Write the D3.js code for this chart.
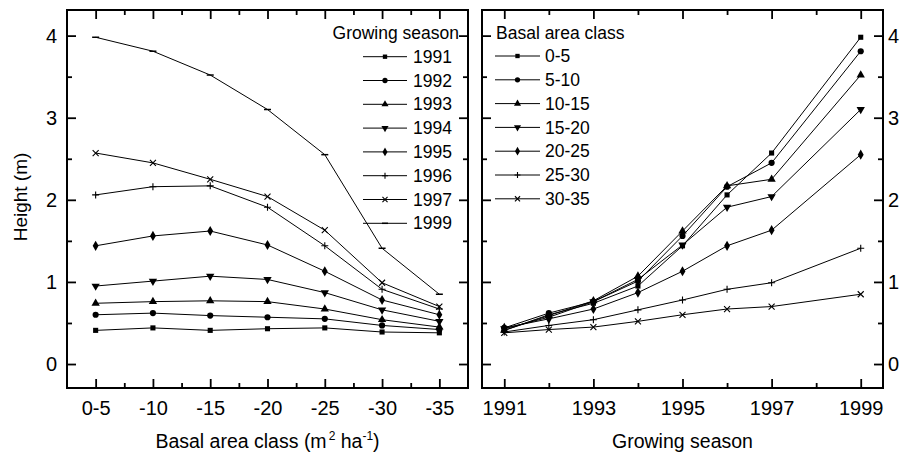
<!DOCTYPE html>
<html>
<head>
<meta charset="utf-8">
<script src="https://cdn.jsdelivr.net/npm/d3@7"></script>
<style>
  body { margin: 0; background: #fff; }
  svg text { font-family: "Liberation Sans", Arial, sans-serif; fill: #000; }
</style>
</head>
<body>
<div id="chart"></div>
<script>
// data (height in m)
var seasons = [1991, 1992, 1993, 1994, 1995, 1996, 1997, 1999];
var basalTicks = ["0-5", "-10", "-15", "-20", "-25", "-30", "-35"];
var basalClasses = ["0-5", "5-10", "10-15", "15-20", "20-25", "25-30", "30-35"];

var h1991 = [0.41, 0.44, 0.41, 0.43, 0.44, 0.39, 0.38];
var h1992 = [0.60, 0.62, 0.59, 0.57, 0.55, 0.47, 0.42];
var h1993 = [0.74, 0.76, 0.77, 0.76, 0.67, 0.54, 0.45];
var h1994 = [0.95, 1.01, 1.07, 1.03, 0.87, 0.66, 0.52];
var h1995 = [1.44, 1.56, 1.62, 1.45, 1.13, 0.78, 0.60];
var h1996 = [2.06, 2.16, 2.17, 1.91, 1.44, 0.91, 0.67];
var h1997 = [2.57, 2.45, 2.25, 2.04, 1.63, 0.99, 0.70];
var h1999 = [3.98, 3.81, 3.52, 3.10, 2.55, 1.41, 0.85];

var bySeason = [h1991, h1992, h1993, h1994, h1995, h1996, h1997, h1999];
var seasonMarkers = ["square", "circle", "triangle", "triangleDown", "diamond", "plus", "cross", "dash"];
var classMarkers = ["square", "circle", "triangle", "triangleDown", "diamond", "plus", "cross"];

var svgWidth = 905, svgHeight = 455;
var plotTop = 10, plotBottom = 388;
var leftPanel = {x0: 67, x1: 468};
var rightPanel = {x0: 482, x1: 883};

var svg = d3.select("#chart").append("svg")
    .attr("width", svgWidth)
    .attr("height", svgHeight);

var y = d3.scaleLinear().domain([-0.292, 4.312]).range([plotBottom, plotTop]);
var xLeft = d3.scaleLinear().domain([-0.5, 6.5]).range([leftPanel.x0, leftPanel.x1]);
var xRight = d3.scaleLinear().domain([1990.5, 1999.5]).range([rightPanel.x0, rightPanel.x1]);

var majorY = [0, 1, 2, 3, 4];
var minorY = [0.5, 1.5, 2.5, 3.5];

function marker(g, type, cx, cy, s) {
    s = s || 1;
    var p;
    if (type == "plus") {
        g.append("path")
            .attr("d", "M" + (cx - 3.5 * s) + "," + cy + "h" + 7 * s + "M" + cx + "," + (cy - 3.5 * s) + "v" + 7 * s)
            .attr("stroke", "#000").attr("stroke-width", 1.1).attr("fill", "none");
        return;
    }
    if (type == "cross") {
        g.append("path")
            .attr("d", "M" + (cx - 3 * s) + "," + (cy - 3 * s) + "l" + 6 * s + "," + 6 * s + "M" + (cx - 3 * s) + "," + (cy + 3 * s) + "l" + 6 * s + "," + (-6 * s))
            .attr("stroke", "#000").attr("stroke-width", 1.1).attr("fill", "none");
        return;
    }
    if (type == "dash") {
        g.append("path")
            .attr("d", "M" + (cx - 3.5 * s) + "," + cy + "h" + 7 * s)
            .attr("stroke", "#000").attr("stroke-width", 1.5).attr("fill", "none");
        return;
    }
    var sym = {
        square: d3.symbolSquare,
        circle: d3.symbolCircle,
        triangle: d3.symbolTriangle,
        triangleDown: d3.symbolTriangle,
        diamond: d3.symbolDiamond
    }[type];
    var size = {square: 26, circle: 30, triangle: 30, triangleDown: 30, diamond: 30}[type] * s * s;
    p = g.append("path")
        .attr("d", d3.symbol().type(sym).size(size)())
        .attr("fill", "#000");
    if (type == "triangleDown") {
        p.attr("transform", "translate(" + cx + "," + cy + ") rotate(180)");
    } else {
        p.attr("transform", "translate(" + cx + "," + cy + ")");
    }
}

function drawAxes(panel, x, majorX, minorX, fmtX, labelsLeft, labelsRight) {
    var g = svg.append("g");

    // bottom
    g.append("g").attr("transform", "translate(0," + plotBottom + ")")
        .call(d3.axisBottom(x).tickValues(majorX).tickSize(-9).tickPadding(13).tickFormat(fmtX));
    g.append("g").attr("transform", "translate(0," + plotBottom + ")")
        .call(d3.axisBottom(x).tickValues(minorX).tickSize(-5).tickFormat(""));
    // top
    g.append("g").attr("transform", "translate(0," + plotTop + ")")
        .call(d3.axisTop(x).tickValues(majorX).tickSize(-9).tickFormat(""));
    g.append("g").attr("transform", "translate(0," + plotTop + ")")
        .call(d3.axisTop(x).tickValues(minorX).tickSize(-5).tickFormat(""));
    // left
    g.append("g").attr("transform", "translate(" + panel.x0 + ",0)")
        .call(d3.axisLeft(y).tickValues(majorY).tickSize(-9).tickPadding(10)
            .tickFormat(labelsLeft ? d3.format("d") : ""));
    g.append("g").attr("transform", "translate(" + panel.x0 + ",0)")
        .call(d3.axisLeft(y).tickValues(minorY).tickSize(-5).tickFormat(""));
    // right
    g.append("g").attr("transform", "translate(" + panel.x1 + ",0)")
        .call(d3.axisRight(y).tickValues(majorY).tickSize(-9).tickPadding(5)
            .tickFormat(labelsRight ? d3.format("d") : ""));
    g.append("g").attr("transform", "translate(" + panel.x1 + ",0)")
        .call(d3.axisRight(y).tickValues(minorY).tickSize(-5).tickFormat(""));

    g.selectAll(".domain").remove();
    g.selectAll(".tick line").attr("stroke", "#000").attr("stroke-width", 1.8);
    g.selectAll(".tick text")
        .attr("font-family", "'Liberation Sans', Arial, sans-serif")
        .attr("font-size", "20px")
        .attr("fill", "#000");

    g.append("rect")
        .attr("x", panel.x0).attr("y", plotTop)
        .attr("width", panel.x1 - panel.x0).attr("height", plotBottom - plotTop)
        .attr("fill", "none").attr("stroke", "#000").attr("stroke-width", 2);
}

var line = d3.line();

// left panel: height vs basal area class, one line per season
var leftIdx = d3.range(basalTicks.length);
drawAxes(leftPanel, xLeft, leftIdx, d3.range(0.5, 6, 1),
    function (d) { return basalTicks[d]; }, true, false);

var gl = svg.append("g");
bySeason.forEach(function (vals, si) {
    gl.append("path")
        .attr("d", line(vals.map(function (v, i) { return [xLeft(i), y(v)]; })))
        .attr("fill", "none").attr("stroke", "#000").attr("stroke-width", 1);
    vals.forEach(function (v, i) {
        marker(gl, seasonMarkers[si], xLeft(i), y(v));
    });
});

// right panel: height vs season, one line per basal area class
drawAxes(rightPanel, xRight, [1991, 1993, 1995, 1997, 1999], [1992, 1994, 1996, 1998],
    d3.format("d"), false, true);

var gr = svg.append("g");
basalClasses.forEach(function (c, ci) {
    var vals = bySeason.map(function (s) { return s[ci]; });
    gr.append("path")
        .attr("d", line(vals.map(function (v, i) { return [xRight(seasons[i]), y(v)]; })))
        .attr("fill", "none").attr("stroke", "#000").attr("stroke-width", 1);
    vals.forEach(function (v, i) {
        marker(gr, classMarkers[ci], xRight(seasons[i]), y(v));
    });
});

// legends
var rowH = 23.8;
var legL = svg.append("g");
legL.append("text").attr("x", 459).attr("y", 33).attr("dy", "0.35em")
    .attr("text-anchor", "end").attr("font-size", "17.5px").text("Growing season");
seasons.forEach(function (s, i) {
    var cy = 56.7 + i * rowH;
    legL.append("line").attr("x1", 363).attr("x2", 407).attr("y1", cy).attr("y2", cy)
        .attr("stroke", "#000").attr("stroke-width", 1);
    marker(legL, seasonMarkers[i], 385, cy, 0.85);
    legL.append("text").attr("x", 413).attr("y", cy).attr("dy", "0.35em")
        .attr("font-size", "17.5px").text(s);
});

var legR = svg.append("g");
legR.append("text").attr("x", 496).attr("y", 33).attr("dy", "0.35em")
    .attr("font-size", "17.5px").text("Basal area class");
basalClasses.forEach(function (c, i) {
    var cy = 56 + i * rowH;
    legR.append("line").attr("x1", 495).attr("x2", 540).attr("y1", cy).attr("y2", cy)
        .attr("stroke", "#000").attr("stroke-width", 1);
    marker(legR, classMarkers[i], 517.5, cy, 0.85);
    legR.append("text").attr("x", 545).attr("y", cy).attr("dy", "0.35em")
        .attr("font-size", "17.5px").text(c);
});

// axis titles
svg.append("text")
    .attr("transform", "translate(27," + 197 + ") rotate(-90)")
    .attr("text-anchor", "middle").attr("font-size", "19px")
    .text("Height (m)");

var bt = svg.append("text")
    .attr("x", (leftPanel.x0 + leftPanel.x1) / 2).attr("y", 448)
    .attr("text-anchor", "middle").attr("font-size", "19.5px");
bt.append("tspan").text("Basal area class (m");
bt.append("tspan").attr("dy", -8).attr("dx", 2).attr("font-size", "12px").text("2");
bt.append("tspan").attr("dy", 8).text(" ha");
bt.append("tspan").attr("dy", -8).attr("font-size", "12px").text("-1");
bt.append("tspan").attr("dy", 8).text(")");

svg.append("text")
    .attr("x", (rightPanel.x0 + rightPanel.x1) / 2).attr("y", 448)
    .attr("text-anchor", "middle").attr("font-size", "19.5px")
    .text("Growing season");
</script>
</body>
</html>
